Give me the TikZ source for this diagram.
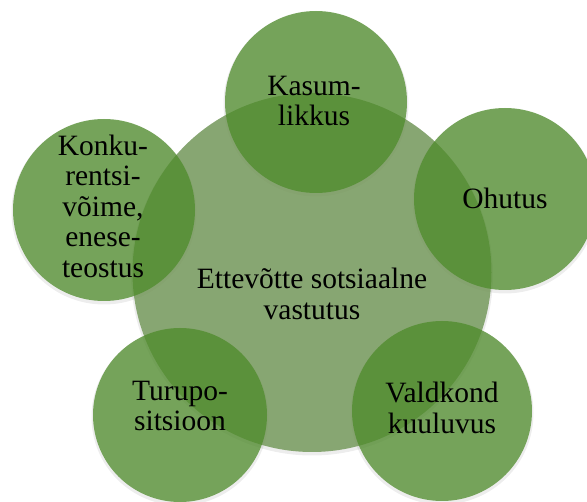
\documentclass[tikz,border=0pt]{standalone}
\usepackage{fontspec}
\setmainfont{Liberation Serif}
\definecolor{centrefill}{RGB}{111,149,84}
\definecolor{outerfill}{RGB}{78,139,42}
\tikzset{
  centrecircle/.style={fill=centrefill, fill opacity=0.8, draw=none},
  outercircle/.style={fill=outerfill, fill opacity=0.75, draw=none},
  haze/.style={fill=black, fill opacity=0.07, draw=none},
  lbl/.style={align=center, text=black, font=\fontsize{29.5}{30.5}\selectfont, inner sep=0pt}
}
\begin{document}
\begin{tikzpicture}[x=1pt,y=-1pt]
\useasboundingbox (0,0) rectangle (587,502);
\begin{scope}
\clip (0,0) rectangle (587,502);
% faint shadows
\fill[haze] (312,274.5) circle (181);
\fill[haze] (316,104) circle (92.5);
\fill[haze] (505,201) circle (92.5);
\fill[haze] (442,413) circle (91.5);
\fill[haze] (180,417) circle (88.5);
\fill[haze] (104,212) circle (92.5);
% circles
\fill[centrecircle] (312,272.5) circle (179.5);
\fill[outercircle] (316,102) circle (91);
\fill[outercircle] (505,199) circle (91);
\fill[outercircle] (442,411) circle (90);
\fill[outercircle] (180,415) circle (87);
\fill[outercircle] (104,210) circle (91);
\end{scope}
\node[lbl] (centre) at (312,294) {Ettevõtte sotsiaalne\\vastutus};
\node[lbl] (kasum) at (314,101) {Kasum-\\likkus};
\node[lbl] (ohutus) at (505,198) {Ohutus};
\node[lbl] (valdkond) at (442,408) {Valdkond\\kuuluvus};
\node[lbl] (turupo) at (180,406) {Turupo-\\sitsioon};
\node[lbl] (konku) at (103,206) {Konku-\\rentsi-\\võime,\\enese-\\teostus};
\end{tikzpicture}
\end{document}
